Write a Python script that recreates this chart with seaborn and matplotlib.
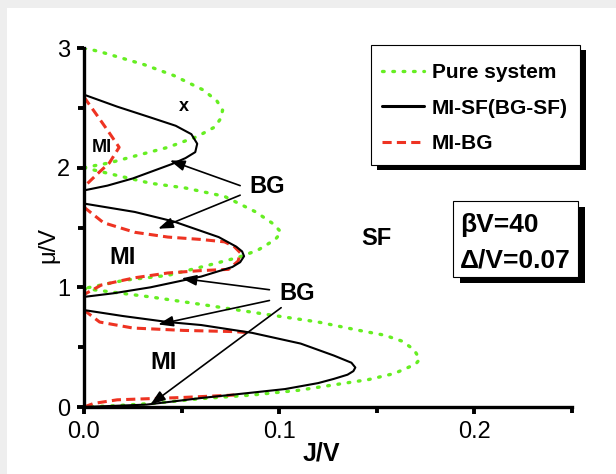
import matplotlib
matplotlib.use("Agg")
import matplotlib.pyplot as plt
from matplotlib.lines import Line2D
from matplotlib.patches import Rectangle
import seaborn as sns

# ---------------- data (J/V, mu/V) ----------------
# pure system lobes
pure_J3 = [0, 0.008, 0.031, 0.046, 0.061, 0.068, 0.071, 0.070, 0.067, 0.058, 0.043, 0.029, 0.013, 0]
pure_mu3 = [3.0, 2.97, 2.86, 2.77, 2.65, 2.56, 2.48, 2.41, 2.34, 2.26, 2.17, 2.11, 2.04, 2.0]
pure_J2 = [0, 0.013, 0.034, 0.052, 0.072, 0.088, 0.097, 0.101, 0.098, 0.089, 0.079, 0.065, 0.043, 0.021, 0]
pure_mu2 = [2.0, 1.95, 1.87, 1.83, 1.76, 1.63, 1.53, 1.46, 1.40, 1.31, 1.25, 1.19, 1.10, 1.06, 0.99]
pure_J1 = [0, 0.034, 0.063, 0.091, 0.120, 0.141, 0.154, 0.163, 0.169, 0.172, 0.170, 0.166, 0.159, 0.146,
           0.130, 0.110, 0.086, 0.060, 0.035, 0.015, 0]
pure_mu1 = [0.99, 0.92, 0.85, 0.78, 0.71, 0.64, 0.60, 0.55, 0.48, 0.40, 0.36, 0.33, 0.28, 0.23,
            0.19, 0.14, 0.10, 0.07, 0.03, 0.01, 0.0]

# MI-SF (BG-SF) boundary
sf_J3 = [0, 0.017, 0.034, 0.047, 0.055, 0.058, 0.057, 0.052, 0.045, 0.035, 0.025, 0.012, 0]
sf_mu3 = [2.61, 2.51, 2.42, 2.35, 2.28, 2.20, 2.13, 2.08, 2.03, 1.97, 1.91, 1.85, 1.81]
sf_J2 = [0, 0.026, 0.046, 0.069, 0.078, 0.081, 0.082, 0.080, 0.076, 0.068, 0.060, 0.034, 0.015, 0]
sf_mu2 = [1.70, 1.63, 1.55, 1.42, 1.34, 1.30, 1.26, 1.21, 1.17, 1.13, 1.09, 1.00, 0.95, 0.92]
sf_J1 = [0, 0.020, 0.043, 0.060, 0.086, 0.111, 0.128, 0.137, 0.139, 0.138, 0.135, 0.128, 0.120,
         0.103, 0.086, 0.060, 0.045, 0.032, 0]
sf_mu1 = [0.81, 0.76, 0.71, 0.685, 0.62, 0.53, 0.43, 0.37, 0.33, 0.30, 0.27, 0.235, 0.20,
          0.15, 0.12, 0.075, 0.045, 0.02, 0.0]

# MI-BG boundary
bg_J3 = [0, 0.007, 0.013, 0.018, 0.013, 0.007, 0]
bg_mu3 = [2.59, 2.43, 2.29, 2.17, 2.04, 1.95, 1.84]
bg_J2 = [0, 0.010, 0.026, 0.043, 0.060, 0.072, 0.077, 0.080, 0.079, 0.074, 0.060, 0.043, 0.026, 0.009, 0]
bg_mu2 = [1.67, 1.54, 1.46, 1.42, 1.40, 1.38, 1.34, 1.29, 1.22, 1.15, 1.14, 1.12, 1.08, 1.02, 0.94]
bg_J1a = [0, 0.008, 0.025, 0.051, 0.077, 0.085]
bg_mu1a = [0.81, 0.71, 0.66, 0.64, 0.63, 0.62]
bg_J1b = [0, 0.005, 0.017, 0.051, 0.077]
bg_mu1b = [0.0, 0.03, 0.06, 0.08, 0.10]

# arrows: (text end J, mu) -> (head J, mu)
arrow_start = [(0.080, 1.85), (0.080, 1.77), (0.095, 0.98), (0.095, 0.89), (0.101, 0.83)]
arrow_end = [(0.044, 2.06), (0.038, 1.49), (0.050, 1.075), (0.038, 0.69), (0.034, 0.02)]

region_labels = ["x", "MI", "BG", "MI", "BG", "MI", "SF"]
region_pos = [(0.051, 2.51), (0.009, 2.17), (0.094, 1.84), (0.020, 1.25), (0.109, 0.95), (0.041, 0.37), (0.150, 1.41)]
region_size = [13, 13, 17, 17, 17, 17, 17]

green = "#66ee22"
red = "#ee3322"

sns.set_style("ticks")
plt.rcParams["font.family"] = ["Liberation Sans", "DejaVu Sans"]
plt.rcParams.update({"text.color": "black", "axes.labelcolor": "black",
                     "xtick.color": "black", "ytick.color": "black", "axes.edgecolor": "black"})

fig = plt.figure(figsize=(6.16, 4.74), dpi=100, facecolor="#eeeeee")
fig.patches.append(Rectangle((7 / 616, 0), 1, 1 - 8 / 474, transform=fig.transFigure,
                             facecolor="white", edgecolor="none", zorder=-5))
ax = fig.add_axes([84 / 616, 67 / 474, 488 / 616, 359 / 474])
ax.set_facecolor("none")

# pure system, dotted green
for J, mu in [(pure_J3, pure_mu3), (pure_J2, pure_mu2), (pure_J1, pure_mu1)]:
    sns.lineplot(x=J, y=mu, sort=False, estimator=None, ax=ax, color=green, lw=2.4,
                 linestyle=(0, (0.5, 2.6)), dash_capstyle="round", legend=False)
# MI-BG, red dashes
for J, mu in [(bg_J3, bg_mu3), (bg_J2, bg_mu2), (bg_J1a, bg_mu1a), (bg_J1b, bg_mu1b)]:
    sns.lineplot(x=J, y=mu, sort=False, estimator=None, ax=ax, color=red, lw=2.2,
                 linestyle=(0, (3.0, 1.7)), legend=False)
# MI-SF, black solid
for J, mu in [(sf_J3, sf_mu3), (sf_J2, sf_mu2), (sf_J1, sf_mu1)]:
    sns.lineplot(x=J, y=mu, sort=False, estimator=None, ax=ax, color="black", lw=1.5, legend=False)

for s, e in zip(arrow_start, arrow_end):
    ax.annotate("", xy=e, xytext=s,
                arrowprops=dict(arrowstyle="-|>,head_length=0.9,head_width=0.32",
                                color="black", lw=1.2, shrinkA=0, shrinkB=0))

for txt, (x, y), fs in zip(region_labels, region_pos, region_size):
    ax.text(x, y, txt, fontsize=fs, fontweight="bold", ha="center", va="center")

ax.set_xlim(0, 0.25)
ax.set_ylim(0, 3)
ax.set_xticks([0, 0.1, 0.2])
ax.set_xticklabels(["0.0", "0.1", "0.2"])
ax.set_xticks([0.05, 0.15, 0.25], minor=True)
ax.set_yticks([0, 1, 2, 3])
ax.set_yticks([0.5, 1.5, 2.5], minor=True)
ax.tick_params(which="major", length=5, width=2.8, labelsize=17, pad=5, direction="out", color="black")
ax.tick_params(which="minor", length=4, width=2.8, direction="out", color="black")
sns.despine(ax=ax)
for side in ["left", "bottom"]:
    ax.spines[side].set_linewidth(2.4)

ax.set_xlabel("J/V", fontsize=18, fontweight="bold")
ax.set_ylabel("μ/V", fontsize=17)
ax.xaxis.set_label_coords(0.486, -0.097)
ax.yaxis.set_label_coords(-0.05, 0.45)


def shadow_box(x0, y0, x1, y1, dx, dy):
    # boxes given in pixels from the top-left corner
    W, H = 616, 474
    fig.patches.append(Rectangle(((x0 + dx) / W, 1 - (y1 + dy) / H), (x1 - x0) / W, (y1 - y0) / H,
                                 transform=fig.transFigure, facecolor="black", edgecolor="none", zorder=5))
    fig.patches.append(Rectangle((x0 / W, 1 - y1 / H), (x1 - x0) / W, (y1 - y0) / H,
                                 transform=fig.transFigure, facecolor="white", edgecolor="black",
                                 lw=0.8, zorder=6))


shadow_box(371, 45, 580, 165, 6, 5)
shadow_box(453, 201, 578, 277, 7, 6)

handles = [Line2D([], [], color=green, lw=2.4, linestyle=(0, (0.5, 2.6)), dash_capstyle="round"),
           Line2D([], [], color="black", lw=2.2),
           Line2D([], [], color=red, lw=2.2, linestyle=(0, (3.0, 1.7)))]
labels = ["Pure system", "MI-SF(BG-SF)", "MI-BG"]
leg = fig.legend(handles, labels, loc="upper left", bbox_to_anchor=(382 / 616, 1 - 63 / 474),
                 frameon=False, prop={"weight": "bold", "size": 15}, handlelength=2.0,
                 handletextpad=0.4, labelspacing=0.8, borderpad=0, borderaxespad=0)
leg.set_zorder(7)

fig.text(460 / 616, 1 - 232 / 474, "βV=40", fontsize=19, fontweight="bold", zorder=8)
fig.text(460 / 616, 1 - 268 / 474, "Δ/V=0.07", fontsize=19, fontweight="bold", zorder=8)

fig.savefig("out.png", dpi=100, facecolor=fig.get_facecolor())
